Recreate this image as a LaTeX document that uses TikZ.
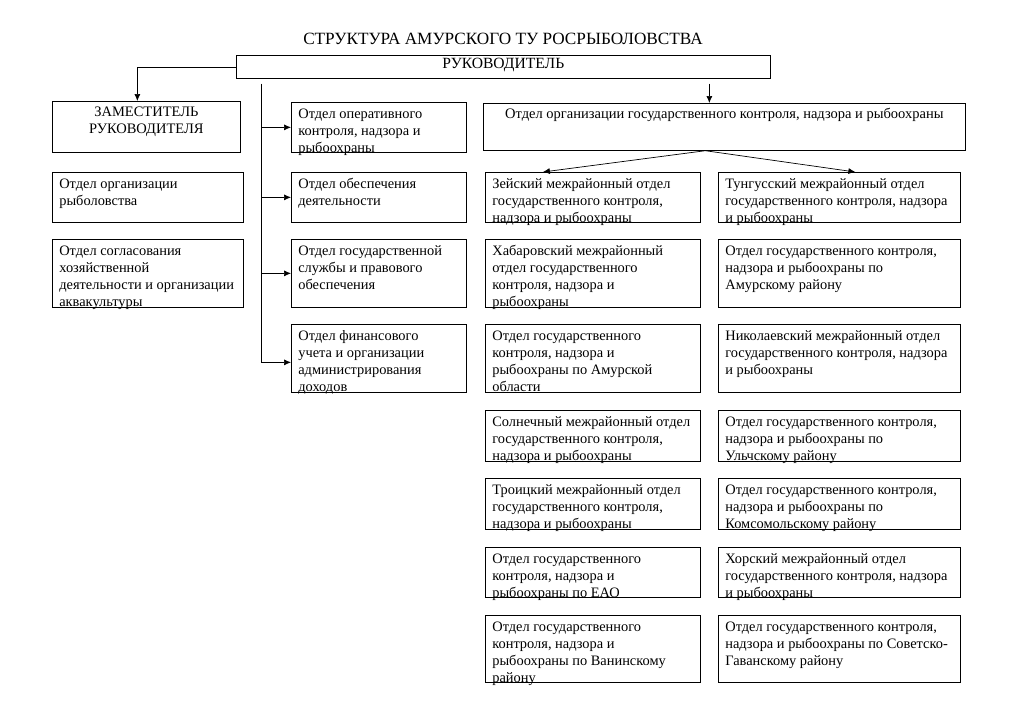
\documentclass[tikz,border=0pt]{standalone}
\usepackage{fontspec}
\setmainfont{Liberation Serif}
\usetikzlibrary{arrows.meta}

\begin{document}
\begin{tikzpicture}[x=1pt,y=-1pt,
    box_style/.style 2 args={draw=black, line width=0.7pt, anchor=north west, inner sep=0pt,
        execute at begin node={\begin{minipage}[t][#2pt][t]{#1pt}\fontsize{14.4}{17}\selectfont\raggedright\leftskip=7pt\rule{0pt}{16.5pt}},
        execute at end node={\end{minipage}}},
    head_style/.style n args={3}{draw=black, line width=0.7pt, anchor=north west, inner sep=0pt,
        execute at begin node={\begin{minipage}[t][#2pt][t]{#1pt}\fontsize{14.5}{17}\selectfont\centering\rule{0pt}{#3pt}},
        execute at end node={\end{minipage}}},
    line_style/.style={draw=black, line width=0.7pt},
    arrow_style/.style={line_style, -{Latex[length=7pt,width=6pt]}}]
    \useasboundingbox (0,0) rectangle (1024,724);
    % title and head
    \node[font=\fontsize{17.2}{20}\selectfont, anchor=base] (title) at (503,44) {СТРУКТУРА АМУРСКОГО ТУ РОСРЫБОЛОВСТВА};
    \node[head_style={534}{23}{12.7}] (chief) at (236,55) {\fontsize{15.6}{17}\selectfont РУКОВОДИТЕЛЬ};
    \node[head_style={188}{51}{15}] (deputy) at (52,101) {ЗАМЕСТИТЕЛЬ\\РУКОВОДИТЕЛЯ};
    \node[head_style={482}{47}{15}] (control) at (483,103) {Отдел организации государственного контроля, надзора и рыбоохраны};
    % left column
    \node[box_style={191}{50}] (fish) at (52,172) {Отдел организации\\рыболовства};
    \node[box_style={191}{68}] (aqua) at (52,239) {Отдел согласования\\хозяйственной\\деятельности и организации\\аквакультуры};
    % middle column
    \node[box_style={175}{50}] (oper) at (291,102) {Отдел оперативного\\контроля, надзора и\\рыбоохраны};
    \node[box_style={175}{50}] (supp) at (291,172) {Отдел обеспечения\\деятельности};
    \node[box_style={175}{68}] (civil) at (291,239) {Отдел государственной\\службы и правового\\обеспечения};
    \node[box_style={175}{68}] (fin) at (291,324) {Отдел финансового\\учета и организации\\администрирования\\доходов};
    % right grid
    \node[box_style={215}{50}] (zeya) at (485,172) {Зейский межрайонный отдел\\государственного контроля,\\надзора и рыбоохраны};
    \node[box_style={242}{50}] (tung) at (718,172) {Тунгусский межрайонный отдел\\государственного контроля, надзора\\и рыбоохраны};
    \node[box_style={215}{68}] (khab) at (485,239) {Хабаровский межрайонный\\отдел государственного\\контроля, надзора и\\рыбоохраны};
    \node[box_style={242}{68}] (amurr) at (718,239) {Отдел государственного контроля,\\надзора и рыбоохраны по\\Амурскому району};
    \node[box_style={215}{68}] (amuro) at (485,324) {Отдел государственного\\контроля, надзора и\\рыбоохраны по Амурской\\области};
    \node[box_style={242}{68}] (nikol) at (718,324) {Николаевский межрайонный отдел\\государственного контроля, надзора\\и рыбоохраны};
    \node[box_style={215}{51}] (soln) at (485,410) {Солнечный межрайонный отдел\\государственного контроля,\\надзора и рыбоохраны};
    \node[box_style={242}{51}] (ulch) at (718,410) {Отдел государственного контроля,\\надзора и рыбоохраны по\\Ульчскому району};
    \node[box_style={215}{51}] (troi) at (485,478) {Троицкий межрайонный отдел\\государственного контроля,\\надзора и рыбоохраны};
    \node[box_style={242}{51}] (koms) at (718,478) {Отдел государственного контроля,\\надзора и рыбоохраны по\\Комсомольскому району};
    \node[box_style={215}{50}] (eao) at (485,547) {Отдел государственного\\контроля, надзора и\\рыбоохраны по ЕАО};
    \node[box_style={242}{50}] (khor) at (718,547) {Хорский межрайонный отдел\\государственного контроля, надзора\\и рыбоохраны};
    \node[box_style={215}{67}] (vanin) at (485,615) {Отдел государственного\\контроля, надзора и\\рыбоохраны по Ванинскому\\району};
    \node[box_style={242}{67}] (sovg) at (718,615) {Отдел государственного контроля,\\надзора и рыбоохраны по Советско-\\Гаванскому району};
    % connectors
    \coordinate (stem) at ([xshift=25pt,yshift=-5pt]chief.south west);
    \coordinate (stemend) at ([yshift=-4pt]fin.west -| stem);
    \coordinate (drop) at ([xshift=206pt,yshift=-5pt]chief.south);
    \coordinate (fan) at ([xshift=-19pt]control.south);
    \draw[arrow_style] (chief.west) -| ([xshift=-9pt]deputy.north);
    \draw[line_style] (stem) -- (stemend);
    \draw[arrow_style] (stem |- oper.west) -- (oper.west);
    \draw[arrow_style] (stem |- supp.west) -- (supp.west);
    \draw[arrow_style] (stem |- civil.west) -- (civil.west);
    \draw[arrow_style] (stemend) -- (stemend -| fin.west);
    \draw[arrow_style] (drop) -- (drop |- control.north);
    \draw[arrow_style] (fan) -- ([xshift=-50pt]zeya.north);
    \draw[arrow_style] (fan) -- ([xshift=16pt]tung.north);
\end{tikzpicture}
\end{document}
